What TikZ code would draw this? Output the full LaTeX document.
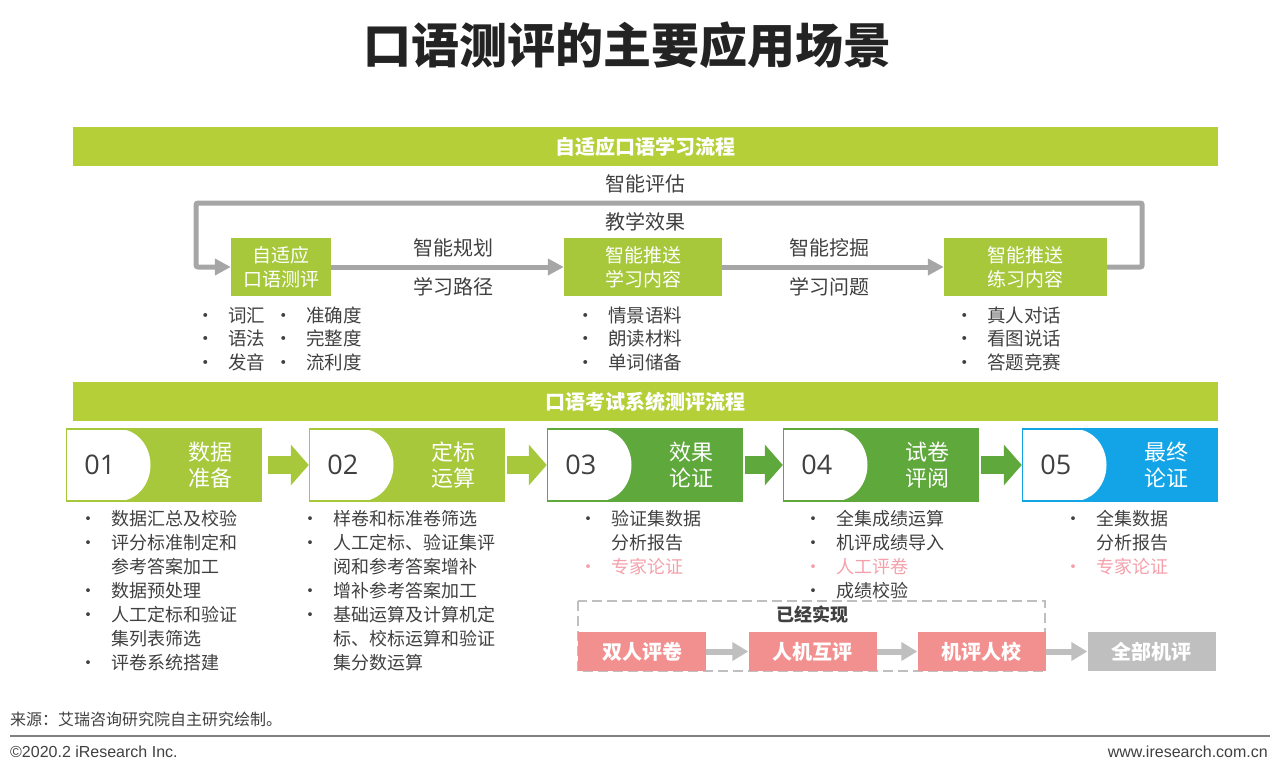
\documentclass[tikz,border=0pt]{standalone}
\usepackage{fontspec}
\setmainfont{Noto Sans CJK SC}
\newfontfamily\numfont{Open Sans}
\newfontfamily\footfont{Liberation Sans}
\usepackage{xcolor}
\definecolor{band}{RGB}{180,207,55}
\definecolor{lime}{RGB}{166,200,58}
\definecolor{leaf}{RGB}{94,168,60}
\definecolor{sky}{RGB}{18,164,230}
\definecolor{rose}{RGB}{242,143,143}
\definecolor{rosetxt}{RGB}{244,160,170}
\definecolor{flow}{RGB}{166,166,166}
\definecolor{ink}{RGB}{64,64,64}
\definecolor{mist}{RGB}{191,191,191}
\definecolor{headtxt}{RGB}{35,35,35}
\usetikzlibrary{arrows.meta,positioning,calc}

\newcommand{\bul}{\makebox[27pt][l]{\kern-5pt•}}
\newcommand{\pinkbul}{\makebox[27pt][l]{\kern-5pt\textcolor{rosetxt}{•}}}

\tikzset{
  bandbar/.style={fill=band, minimum width=1145, minimum height=39, inner sep=0,
    text=white, font=\bfseries\fontsize{20}{20}\selectfont},
  flowbox/.style={fill=lime, text=white, minimum height=58, inner sep=0, align=center,
    font=\fontsize{19}{24}\selectfont},
  flowarrow/.style={draw=flow, line width=5pt, -{Triangle[length=16pt,width=16pt]}},
  lbl/.style={text=ink, inner sep=0, font=\fontsize{20}{20}\selectfont},
  listing/.style={text=ink, inner sep=0, anchor=base west},
  stepbox/.style={draw=#1, fill=#1, line width=1.5pt, minimum width=195, minimum height=72, inner sep=0,
    path picture={\fill[white] (path picture bounding box.north west) -- ++(52pt,0pt)
      arc[start angle=90, end angle=-90, x radius=32pt, y radius=36pt]
      -- (path picture bounding box.south west) -- cycle;}},
  numlbl/.style={text=ink, inner sep=0, font=\numfont\fontsize{27}{27}\selectfont},
  steptitle/.style={text=white, inner sep=0, align=center, font=\fontsize{22}{26}\selectfont},
  blockarrow/.style={draw=#1, line width=18pt, -{Triangle[length=18pt,width=40pt]}},
  stage/.style={fill=rose, minimum width=128, minimum height=39, inner sep=0, text=white,
    font=\bfseries\fontsize{20}{20}\selectfont},
  stagearrow/.style={draw=mist, line width=6pt, -{Triangle[length=16pt,width=18pt]}},
}

\begin{document}
\begin{tikzpicture}[x=1pt, y=-1pt]
    \useasboundingbox (0,0) rectangle (1280,773);

    % title
    \node[text=headtxt, font=\bfseries\fontsize{48}{48}\selectfont] (title) at (627,45) {口语测评的主要应用场景};

    % adaptive learning flow
    \node[bandbar] (band1) at (645.5,146.5) {自适应口语学习流程};
    \node[flowbox, minimum width=100] (f1) at (281,267) {自适应\\口语测评};
    \node[flowbox, minimum width=158] (f2) at (643,267) {智能推送\\学习内容};
    \node[flowbox, minimum width=163] (f3) at (1025.5,267) {智能推送\\练习内容};
    \coordinate (loop) at (196,203);
    \draw[flowarrow] (f1) -- (f2);
    \draw[flowarrow] (f2) -- (f3);
    \draw[flowarrow, rounded corners=2pt] (f3.east) -- ++(35,0) |- (loop) |- (f1.west);

    \node[lbl] (eval) at (645,184) {智能评估};
    \node[lbl] (effect) at (645,222) {教学效果};
    \node[lbl] (plan) at (453,248) {智能规划};
    \node[lbl] (route) at (453,287) {学习路径};
    \node[lbl] (mine) at (829,248) {智能挖掘};
    \node[lbl] (issue) at (829,287) {学习问题};

    \node[listing, font=\fontsize{18.5}{23.5}\selectfont] (l1) at (201,322)
        {\begin{tabular}[t]{@{}l@{}l@{\hspace{14pt}}l@{}l@{}}
         \bul & 词汇 & \bul & 准确度\\ \bul & 语法 & \bul & 完整度\\ \bul & 发音 & \bul & 流利度
         \end{tabular}};
    \node[listing, font=\fontsize{18.5}{23.5}\selectfont] (l2) at (581,322)
        {\begin{tabular}[t]{@{}l@{}l@{}}
         \bul & 情景语料\\ \bul & 朗读材料\\ \bul & 单词储备
         \end{tabular}};
    \node[listing, font=\fontsize{18.5}{23.5}\selectfont] (l3) at (960,322)
        {\begin{tabular}[t]{@{}l@{}l@{}}
         \bul & 真人对话\\ \bul & 看图说话\\ \bul & 答题竞赛
         \end{tabular}};

    % oral exam evaluation flow
    \node[bandbar] (band2) at (645.5,401.5) {口语考试系统测评流程};

    \node[stepbox=lime] (s1) at (164,465) {};
    \node[stepbox=lime] (s2) at (407,465) {};
    \node[stepbox=leaf] (s3) at (645,465) {};
    \node[stepbox=leaf] (s4) at (881,465) {};
    \node[stepbox=sky] (s5) at (1120,465) {};

    \node[numlbl] (n1) at ([xshift=34]s1.west) {01};
    \node[numlbl] (n2) at ([xshift=34]s2.west) {02};
    \node[numlbl] (n3) at ([xshift=34]s3.west) {03};
    \node[numlbl] (n4) at ([xshift=34]s4.west) {04};
    \node[numlbl] (n5) at ([xshift=34]s5.west) {05};

    \node[steptitle] (t1) at ([xshift=-52]s1.east) {数据\\准备};
    \node[steptitle] (t2) at ([xshift=-52]s2.east) {定标\\运算};
    \node[steptitle] (t3) at ([xshift=-52]s3.east) {效果\\论证};
    \node[steptitle] (t4) at ([xshift=-52]s4.east) {试卷\\评阅};
    \node[steptitle] (t5) at ([xshift=-52]s5.east) {最终\\论证};

    \draw[blockarrow=lime] ([xshift=6]s1.east) -- (s2.west);
    \draw[blockarrow=lime] ([xshift=2]s2.east) -- (s3.west);
    \draw[blockarrow=leaf] ([xshift=2]s3.east) -- (s4.west);
    \draw[blockarrow=leaf] ([xshift=2]s4.east) -- (s5.west);

    \node[listing, font=\fontsize{18}{24}\selectfont] (b1) at (84,525)
        {\begin{tabular}[t]{@{}l@{}l@{}}
         \bul & 数据汇总及校验\\ \bul & 评分标准制定和\\ & 参考答案加工\\ \bul & 数据预处理\\
         \bul & 人工定标和验证\\ & 集列表筛选\\ \bul & 评卷系统搭建
         \end{tabular}};
    \node[listing, font=\fontsize{18}{24}\selectfont] (b2) at (306,525)
        {\begin{tabular}[t]{@{}l@{}l@{}}
         \bul & 样卷和标准卷筛选\\ \bul & 人工定标、验证集评\\ & 阅和参考答案增补\\ \bul & 增补参考答案加工\\
         \bul & 基础运算及计算机定\\ & 标、校标运算和验证\\ & 集分数运算
         \end{tabular}};
    \node[listing, font=\fontsize{18}{24}\selectfont] (b3) at (584,525)
        {\begin{tabular}[t]{@{}l@{}l@{}}
         \bul & 验证集数据\\ & 分析报告\\ \pinkbul & \textcolor{rosetxt}{专家论证}
         \end{tabular}};
    \node[listing, font=\fontsize{18}{24}\selectfont] (b4) at (809,525)
        {\begin{tabular}[t]{@{}l@{}l@{}}
         \bul & 全集成绩运算\\ \bul & 机评成绩导入\\ \pinkbul & \textcolor{rosetxt}{人工评卷}\\ \bul & 成绩校验
         \end{tabular}};
    \node[listing, font=\fontsize{18}{24}\selectfont] (b5) at (1069,525)
        {\begin{tabular}[t]{@{}l@{}l@{}}
         \bul & 全集数据\\ & 分析报告\\ \pinkbul & \textcolor{rosetxt}{专家论证}
         \end{tabular}};

    % marking stages
    \draw[mist, line width=1.2pt, dash pattern=on 10pt off 5pt] (578,601) rectangle (1045,671);
    \node[text=ink, font=\bfseries\fontsize{18}{18}\selectfont] (done) at (812,615) {已经实现};
    \node[stage] (p1) at (642,651.5) {双人评卷};
    \node[stage] (p2) at (812.5,651.5) {人机互评};
    \node[stage] (p3) at (981.5,651.5) {机评人校};
    \node[stage, fill=mist] (p4) at (1151.5,651.5) {全部机评};
    \draw[stagearrow] (p1) -- (p2);
    \draw[stagearrow] (p2) -- (p3);
    \draw[stagearrow] (p3) -- (p4);

    % footer
    \node[anchor=west, inner sep=0, text=ink, font=\fontsize{16}{16}\selectfont] (src) at (10,719) {来源：艾瑞咨询研究院自主研究绘制。};
    \draw[gray, line width=2.5pt] (10,736) -- (1270,736);
    \node[anchor=west, inner sep=0, text=ink, font=\footfont\fontsize{16}{16}\selectfont] (copy) at (10,752) {©2020.2 iResearch Inc.};
    \node[anchor=east, inner sep=0, text=ink, font=\footfont\fontsize{16}{16}\selectfont] (web) at (1268,752) {www.iresearch.com.cn};
\end{tikzpicture}
\end{document}
